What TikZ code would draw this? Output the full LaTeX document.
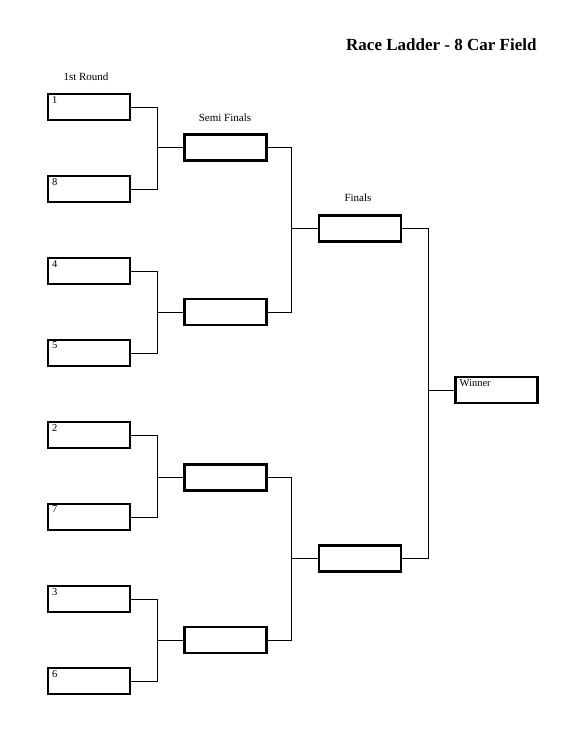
\documentclass[tikz,border=0pt]{standalone}
\usepackage{fontspec}
\setmainfont{Liberation Serif}
\usetikzlibrary{positioning}
\tikzstyle{slot} = [rectangle, minimum width=82pt, minimum height=26pt, draw=black, line width=2.2pt, inner sep=0pt]
\tikzstyle{seed} = [font=\fontsize{10.5}{12}\selectfont, anchor=north west, inner sep=0pt, xshift=5pt, yshift=-3pt]
\tikzstyle{heading} = [font=\fontsize{11}{13}\selectfont]
\tikzstyle{line} = [line width=0.8pt]

\begin{document}
\begin{tikzpicture}[x=1pt, y=-1pt, node distance=82pt]
    \useasboundingbox (0,0) rectangle (581,752);

    % Title and headings
    \node (title) [font=\bfseries\fontsize{17}{20}\selectfont, anchor=east] at (540,45) {Race Ladder - 8 Car Field};
    \node (roundlbl) [heading] at (86,77) {1st Round};
    \node (semilbl) [heading] at (225,118) {Semi Finals};
    \node (finallbl) [heading] at (358,198) {Finals};

    % 1st round
    \node (r1) [slot] at (89,107) {};
    \node (r2) [slot, below of=r1] {};
    \node (r3) [slot, below of=r2] {};
    \node (r4) [slot, below of=r3] {};
    \node (r5) [slot, below of=r4] {};
    \node (r6) [slot, below of=r5] {};
    \node (r7) [slot, below of=r6] {};
    \node (r8) [slot, below of=r7] {};
    \node [seed] at (r1.north west) {1};
    \node [seed] at (r2.north west) {8};
    \node [seed] at (r3.north west) {4};
    \node [seed] at (r4.north west) {5};
    \node [seed] at (r5.north west) {2};
    \node [seed] at (r6.north west) {7};
    \node [seed] at (r7.north west) {3};
    \node [seed] at (r8.north west) {6};

    % Semi finals
    \node (s1) [slot] at (225.5,147.5) {};
    \node (s2) [slot] at (225.5,312) {};
    \node (s3) [slot] at (225.5,477.5) {};
    \node (s4) [slot] at (225.5,640) {};

    % Finals
    \node (f1) [slot] at (360,228.5) {};
    \node (f2) [slot] at (360,558.5) {};

    % Winner
    \node (win) [slot] at (496.5,390) {};
    \node [seed] at (win.north west) {Winner};

    % Lines
    \draw [line] (r1.east) -- ++(26,0) |- (s1.west);
    \draw [line] (r2.east) -- ++(26,0) |- (s1.west);
    \draw [line] (r3.east) -- ++(26,0) |- (s2.west);
    \draw [line] (r4.east) -- ++(26,0) |- (s2.west);
    \draw [line] (r5.east) -- ++(26,0) |- (s3.west);
    \draw [line] (r6.east) -- ++(26,0) |- (s3.west);
    \draw [line] (r7.east) -- ++(26,0) |- (s4.west);
    \draw [line] (r8.east) -- ++(26,0) |- (s4.west);
    \draw [line] (s1.east) -- ++(24,0) |- (f1.west);
    \draw [line] (s2.east) -- ++(24,0) |- (f1.west);
    \draw [line] (s3.east) -- ++(24,0) |- (f2.west);
    \draw [line] (s4.east) -- ++(24,0) |- (f2.west);
    \draw [line] (f1.east) -- ++(26,0) |- (win.west);
    \draw [line] (f2.east) -- ++(26,0) |- (win.west);

\end{tikzpicture}
\end{document}
